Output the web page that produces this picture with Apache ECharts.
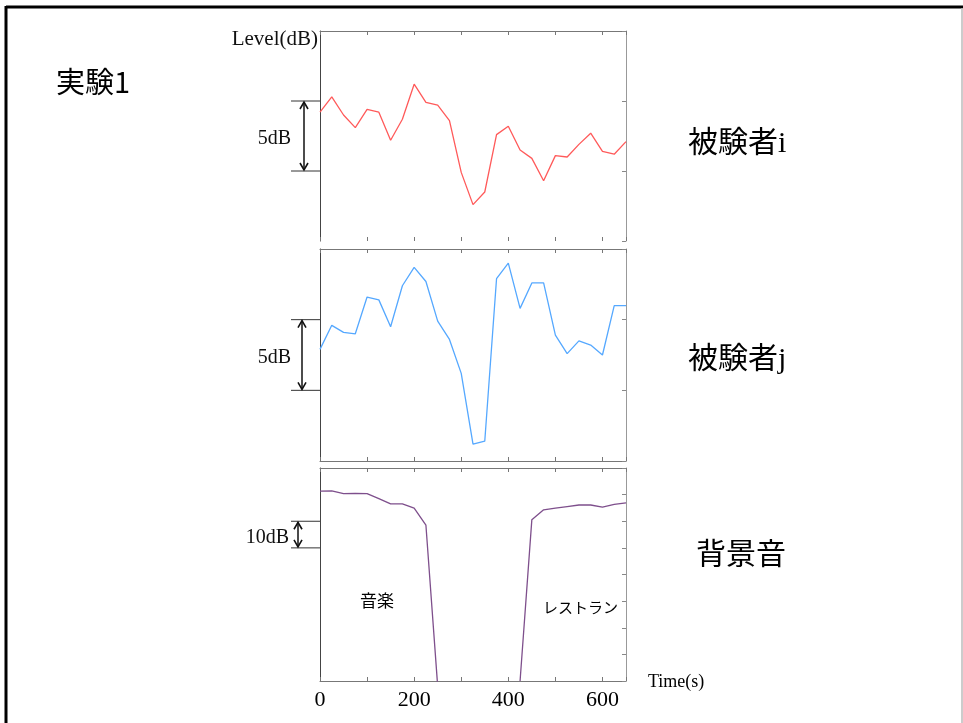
<!DOCTYPE html>
<html>
<head>
<meta charset="utf-8">
<script src="https://cdn.jsdelivr.net/npm/echarts@6/dist/echarts.min.js"></script>
<style>
html,body{margin:0;padding:0;background:#fff;}
#main{width:963px;height:723px;}
</style>
</head>
<body>
<div id="main"></div>
<script>
// ---- data ----
const times = [0,25,50,75,100,125,150,175,200,225,250,275,300,325,350,375,400,425,450,475,500,525,550,575,600,625,650];
const subjectI = [9.2,10.3,9.0,8.1,9.4,9.2,7.2,8.7,11.2,9.9,9.7,8.6,4.9,2.6,3.5,7.6,8.2,6.5,5.9,4.3,6.1,6.0,6.9,7.7,6.4,6.2,7.1];
const subjectJ = [7.9,9.6,9.1,9.0,11.6,11.4,9.5,12.4,13.7,12.7,9.9,8.6,6.2,1.2,1.4,12.9,14.0,10.8,12.6,12.6,8.9,7.6,8.5,8.2,7.5,11.0,11.0];
const background = [71.3,71.4,70.4,70.5,70.4,68.5,66.5,66.5,64.9,58.5,-2,null,null,null,null,null,null,0,60.6,64.3,64.9,65.5,66.1,66.1,65.3,66.3,66.9];
const xTickLabels = ['0','200','400','600'];

const serif = "'Liberation Serif','Times New Roman',serif";
const jp = "'Noto Sans CJK JP','Noto Sans',sans-serif";
const mixed = "'Liberation Serif','Noto Sans CJK JP',serif";

const chart = echarts.init(document.getElementById('main'), null, {renderer:'canvas'});

const grids = [
  {left:320, top:31, width:306, height:210},
  {left:320, top:249, width:306, height:212},
  {left:320, top:468, width:306, height:213}
];

function xAx(grid, pos, opts) {
  return Object.assign({
    type:'value', gridIndex:grid, position:pos, min:0, max:650, interval:100,
    axisLine:{show:true, onZero:false, lineStyle:{color:'#777', width:1}},
    axisTick:{show:true, inside:true, length:4, lineStyle:{color:'#777'}},
    axisLabel:{show:false}, splitLine:{show:false}
  }, opts || {});
}
function yAx(grid, pos, max, interval, opts) {
  return Object.assign({
    type:'value', gridIndex:grid, position:pos, min:0, max:max, interval:interval,
    axisLine:{show:true, onZero:false, lineStyle:{color: pos==='left' ? '#444' : '#999', width:1}},
    axisTick:{show: pos==='right', inside:true, length:4, lineStyle:{color:'#888'}},
    axisLabel:{show:false}, splitLine:{show:false}
  }, opts || {});
}

const xAxes = [
  xAx(0,'bottom',{axisLine:{show:false}}),
  xAx(0,'top'),
  xAx(1,'bottom'),
  xAx(1,'top'),
  xAx(2,'bottom',{axisLabel:{show:true, margin:8, fontFamily:serif, fontSize:22, color:'#000',
     formatter:function(v){ return xTickLabels.indexOf(String(v))>=0 ? String(v) : ''; }}}),
  xAx(2,'top')
];
const yAxes = [
  yAx(0,'left',15,5), yAx(0,'right',15,5),
  yAx(1,'left',15,5), yAx(1,'right',15,5),
  yAx(2,'left',80,10), yAx(2,'right',80,10)
];

function pairs(vals){ return times.map((t,i)=>[t, vals[i]]); }

chart.setOption({
  animation:false,
  backgroundColor:'#fff',
  grid: grids,
  xAxis: xAxes,
  yAxis: yAxes,
  series: [
    {type:'line', xAxisIndex:0, yAxisIndex:0, data:pairs(subjectI), showSymbol:false, clip:true,
     lineStyle:{color:'#ff5a5a', width:1.3}},
    {type:'line', xAxisIndex:2, yAxisIndex:2, data:pairs(subjectJ), showSymbol:false, clip:true,
     lineStyle:{color:'#55a8ff', width:1.3}},
    {type:'line', xAxisIndex:4, yAxisIndex:4, data:pairs(background), showSymbol:false, clip:true, connectNulls:false,
     lineStyle:{color:'#7e4f8c', width:1.3}}
  ]
});

// scale bars positioned through the axes
function scaleBar(yAxisIndex, vHi, vLo, xBar, label, labelRight) {
  const yHi = chart.convertToPixel({yAxisIndex:yAxisIndex}, vHi);
  const yLo = chart.convertToPixel({yAxisIndex:yAxisIndex}, vLo);
  const col = '#111';
  const els = [];
  els.push({type:'line', shape:{x1:291, y1:yHi, x2:320, y2:yHi}, style:{stroke:'#333', lineWidth:1}});
  els.push({type:'line', shape:{x1:291, y1:yLo, x2:320, y2:yLo}, style:{stroke:'#333', lineWidth:1}});
  els.push({type:'line', shape:{x1:xBar, y1:yHi+1, x2:xBar, y2:yLo-1}, style:{stroke:col, lineWidth:1.5}});
  els.push({type:'polyline', shape:{points:[[xBar-4,yHi+8],[xBar,yHi+1],[xBar+4,yHi+8]]}, style:{stroke:col, lineWidth:1.6, fill:null}});
  els.push({type:'polyline', shape:{points:[[xBar-4,yLo-8],[xBar,yLo-1],[xBar+4,yLo-8]]}, style:{stroke:col, lineWidth:1.6, fill:null}});
  els.push({type:'text', style:{text:label, x:labelRight, y:(yHi+yLo)/2+3, align:'right', verticalAlign:'middle',
     font:'20px ' + serif, fill:'#111'}});
  return els;
}

let g = [];
g = g.concat(scaleBar(0, 10, 5, 304, '5dB', 291));
g = g.concat(scaleBar(2, 10, 5, 302, '5dB', 291));
g = g.concat(scaleBar(4, 60, 50, 298, '10dB', 289));

g.push({type:'line', shape:{x1:6, y1:7, x2:963, y2:7}, style:{stroke:'#000', lineWidth:3}});
g.push({type:'line', shape:{x1:6, y1:6, x2:6, y2:723}, style:{stroke:'#000', lineWidth:3}});
g.push({type:'line', shape:{x1:962, y1:8, x2:962, y2:723}, style:{stroke:'#bbb', lineWidth:1.5}});

g.push({type:'text', style:{text:'実験1', x:56, y:82, align:'left', verticalAlign:'middle', font:'29px ' + jp, fill:'#000'}});
g.push({type:'text', style:{text:'Level(dB)', x:318, y:39, align:'right', verticalAlign:'middle', font:'21px ' + serif, fill:'#111'}});
g.push({type:'text', style:{text:'被験者i', x:688, y:144, align:'left', verticalAlign:'middle', font:'30px ' + mixed, fill:'#000'}});
g.push({type:'text', style:{text:'被験者j', x:688, y:360, align:'left', verticalAlign:'middle', font:'30px ' + mixed, fill:'#000'}});
g.push({type:'text', style:{text:'背景音', x:696, y:553, align:'left', verticalAlign:'middle', font:'30px ' + jp, fill:'#000'}});
g.push({type:'text', style:{text:'音楽', x:360, y:601, align:'left', verticalAlign:'middle', font:'17px ' + jp, fill:'#000'}});
g.push({type:'text', style:{text:'レストラン', x:543, y:607, align:'left', verticalAlign:'middle', font:'15px ' + jp, fill:'#000'}});
g.push({type:'text', style:{text:'Time(s)', x:648, y:682, align:'left', verticalAlign:'middle', font:'18px ' + serif, fill:'#000'}});

chart.setOption({graphic: g});
</script>
</body>
</html>
